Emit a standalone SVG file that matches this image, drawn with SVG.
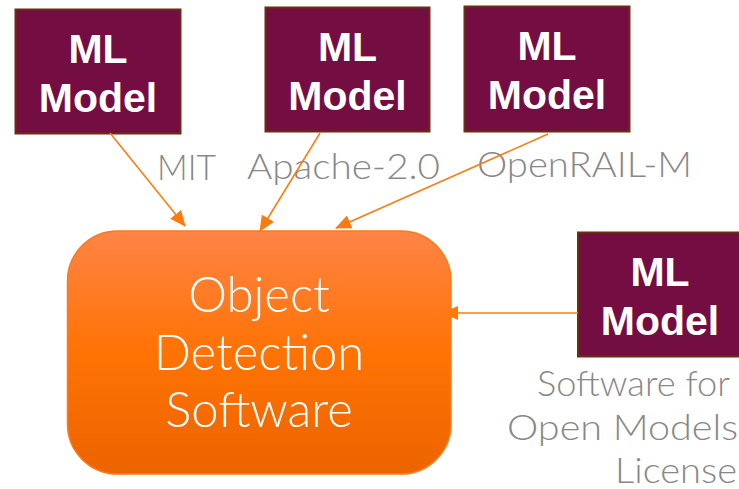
<svg xmlns="http://www.w3.org/2000/svg" width="739" height="489" viewBox="0 0 739 489">
  <defs>
    <linearGradient id="og" x1="0" y1="0" x2="0" y2="1">
      <stop offset="0" stop-color="#FF8446"/>
      <stop offset="0.5" stop-color="#FF7304"/>
      <stop offset="1" stop-color="#EC6400"/>
    </linearGradient>
    <marker id="ah" markerUnits="userSpaceOnUse" markerWidth="16" markerHeight="14" viewBox="0 0 16 14" refX="15" refY="7" orient="auto">
      <path d="M0,0 L16,7 L0,14 Z" fill="#FF7A0C"/>
    </marker>
    <style>
      .ml rect { fill: #740E42; stroke: #6B2E10; stroke-width: 2; }
      .ml text { font-family: "Liberation Sans", Arial, sans-serif; font-weight: bold; font-size: 41px; fill: #FFFFFF; text-anchor: middle; }
      .lbl { font-family: Lato, "Open Sans", sans-serif; font-weight: 300; font-size: 35px; fill: #888888; }
      .conn line { stroke: #FF7A0C; stroke-width: 1.5; marker-end: url(#ah); }
      .main text { font-family: Lato, "Open Sans", sans-serif; font-weight: 300; font-size: 49px; fill: #FFFFFF; text-anchor: middle; }
    </style>
  </defs>
  <rect width="739" height="489" fill="#FFFFFF"/>

  <g id="software" class="main">
    <rect x="67.5" y="231" width="383.5" height="243" rx="50" ry="50" fill="url(#og)" stroke="#FA7A1C" stroke-width="1.5"/>
    <text x="259" y="312">Object</text>
    <text x="259" y="370">Detection</text>
    <text x="259" y="427">Software</text>
  </g>

  <g id="model1" class="ml">
    <rect x="15.5" y="9.5" width="165" height="124"/>
    <text x="98" y="63">ML</text>
    <text x="98" y="112">Model</text>
  </g>
  <g id="model2" class="ml">
    <rect x="265.5" y="7.5" width="164" height="124"/>
    <text x="347.5" y="61">ML</text>
    <text x="347.5" y="110">Model</text>
  </g>
  <g id="model3" class="ml">
    <rect x="464.5" y="6.5" width="165" height="125"/>
    <text x="547" y="60">ML</text>
    <text x="547" y="109">Model</text>
  </g>
  <g id="model4" class="ml">
    <rect x="578" y="232.5" width="166" height="124"/>
    <text x="660" y="286">ML</text>
    <text x="660" y="335">Model</text>
  </g>

  <g id="labels">
    <text class="lbl" x="157" y="180" textLength="59" lengthAdjust="spacingAndGlyphs">MIT</text>
    <text class="lbl" x="247" y="179" textLength="193" lengthAdjust="spacingAndGlyphs">Apache-2.0</text>
    <text class="lbl" x="477" y="177" textLength="215" lengthAdjust="spacingAndGlyphs">OpenRAIL-M</text>
    <text class="lbl" x="537" y="396" textLength="193" lengthAdjust="spacingAndGlyphs">Software for</text>
    <text class="lbl" x="507" y="440" textLength="231" lengthAdjust="spacingAndGlyphs">Open Models</text>
    <text class="lbl" x="615" y="483" textLength="122" lengthAdjust="spacingAndGlyphs">License</text>
  </g>

  <g id="connectors" class="conn">
    <line x1="110" y1="133" x2="185" y2="226"/>
    <line x1="320" y1="133" x2="260" y2="231"/>
    <line x1="548" y1="134" x2="336" y2="228"/>
    <line x1="578" y1="313" x2="443" y2="313"/>
  </g>
</svg>
